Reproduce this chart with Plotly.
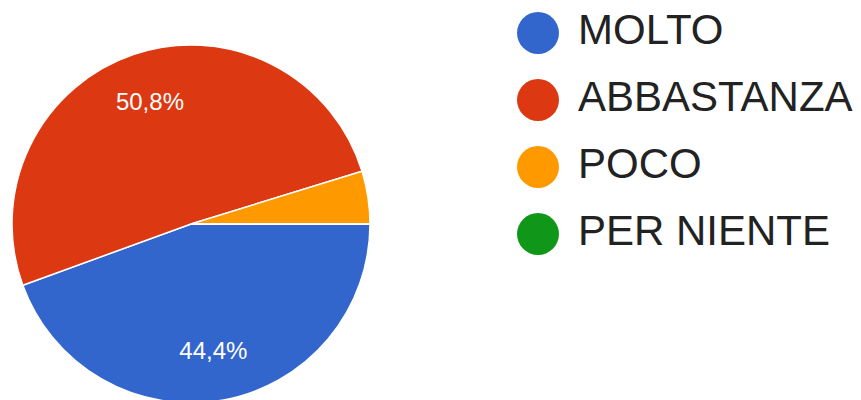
import plotly.graph_objects as go

categories = ["MOLTO", "ABBASTANZA", "POCO", "PER NIENTE"]
counts = [28, 32, 3, 0]
colors = ["#3366CC", "#DC3912", "#FF9900", "#109618"]

W, H = 861, 400
OFF = 8  # page body margin of the browser
total = sum(counts)
templates = ["%{percent:.1%}" if c / total >= 0.05 else "" for c in counts]

# pie: centre (191,224) on screen, radius 179
cx, cy, r = 191 - OFF, 224 - OFF, 179
dom = dict(x=[(cx - r) / W, (cx + r) / W], y=[(H - cy - r) / H, (H - cy + r) / H])

fig = go.Figure()
fig.add_trace(go.Pie(
    labels=categories, values=counts, sort=False,
    direction="clockwise", rotation=90,
    marker=dict(colors=colors, line=dict(color="white", width=1.5)),
    textinfo="none", domain=dom,
    showlegend=False, hoverinfo="label+percent",
))
# transparent ring only used to place the percentage labels
fig.add_trace(go.Pie(
    labels=categories, values=counts, sort=False,
    direction="clockwise", rotation=90, hole=0.44,
    marker=dict(colors=["rgba(0,0,0,0)"] * len(counts), line=dict(width=0)),
    texttemplate=templates, textposition="inside",
    insidetextorientation="horizontal",
    textfont=dict(family="Liberation Sans, Arial", size=24, color="white"),
    domain=dom, showlegend=False, hoverinfo="skip",
))

idx = list(range(len(categories)))
fig.add_trace(go.Scatter(
    x=[538 - OFF] * len(categories), y=idx, mode="markers",
    marker=dict(size=42, color=colors, line=dict(width=0)),
    showlegend=False, hoverinfo="skip", cliponaxis=False,
))
fig.add_trace(go.Scatter(
    x=[578 - OFF] * len(categories), y=idx, mode="text",
    text=categories, textposition="middle right",
    textfont=dict(family="Liberation Sans, Arial", size=42, color="#222222"),
    showlegend=False, hoverinfo="skip", cliponaxis=False,
))

y0 = 33 - OFF
fig.update_layout(
    width=W, height=H, margin=dict(l=0, r=0, t=0, b=0),
    paper_bgcolor="white", plot_bgcolor="rgba(0,0,0,0)",
    separators=",.",
    xaxis=dict(range=[0, W], visible=False, fixedrange=True),
    yaxis=dict(range=[(H - y0) / 67, -y0 / 67], visible=False, fixedrange=True),
)
fig.write_html("out.html")
